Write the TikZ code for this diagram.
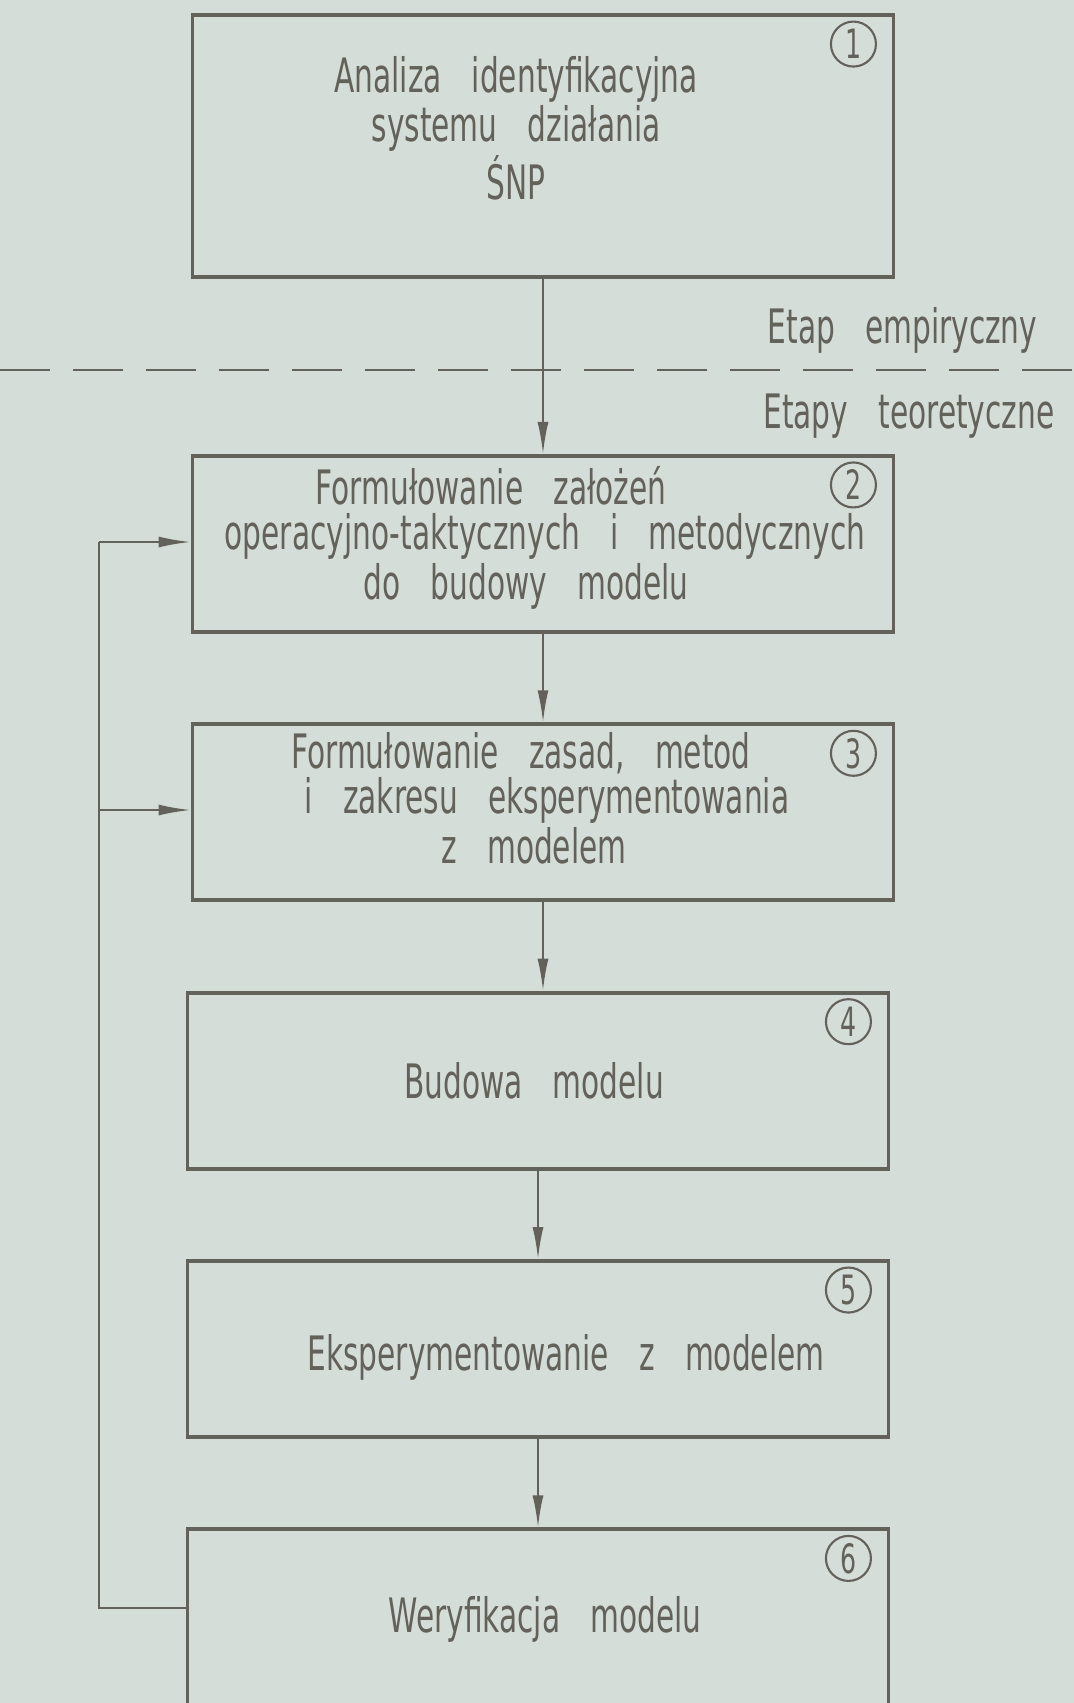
\documentclass[tikz,border=0pt]{standalone}
\usepackage{fontspec}
\usepackage{tikz}
\usetikzlibrary{positioning,arrows.meta}
\newfontfamily\drafting{DejaVu Sans}[FakeStretch=0.625,WordSpace=3.2]
\definecolor{paper}{RGB}{213,221,216}
\definecolor{ink}{RGB}{98,98,90}

\begin{document}
\begin{tikzpicture}[
    node distance={8.85mm},
    box/.style = {draw=ink, line width=1.1pt, minimum width=70.1mm, minimum height=17.6mm, inner sep=0pt},
    txt/.style = {text=ink, align=center, font=\drafting\fontsize{13.5}{12.8}\selectfont, inner sep=0pt},
    num/.style = {draw=ink, circle, line width=0.6pt, minimum size=4.5mm, inner sep=0pt, text=ink, font=\drafting\fontsize{11.5}{11.5}\selectfont},
    flow/.style = {draw=ink, line width=0.6pt, -{Latex[length=3.2mm,width=1.1mm]}},
    back/.style = {draw=ink, line width=0.7pt},
    sep/.style = {draw=ink, line width=0.8pt, dash pattern=on 5mm off 2.3mm}
  ]
  \fill[paper] (0,0) rectangle (10.74,-17.03);
  \useasboundingbox (0,0) rectangle (10.74,-17.03);
  \clip (0,0) rectangle (10.74,-17.03);

  % stages
  \node[box, minimum height=26.2mm] (1) at (5.43,-1.46) {};
  \node[box] (2) [below=17.5mm of 1] {};
  \node[box] (3) [below=of 2] {};
  \node[box] (4) [below=of 3, xshift=-0.5mm] {};
  \node[box] (5) [below=of 4] {};
  \node[box, minimum height=19mm] (6) [below=of 5] {};

  \node[txt] (t1) at ([xshift=-2.7mm,yshift=1.8mm]1.center) {Analiza identyfikacyjna\\systemu działania\\ŚNP};
  \node[txt] (t2) at ([xshift=0.2mm,yshift=0.6mm]2.center) {Formułowanie założeń\hspace*{10.8mm}\\operacyjno-taktycznych i metodycznych\\do budowy modelu\hspace*{3.8mm}};
  \node[txt] (t3) at ([xshift=0.4mm,yshift=1.4mm]3.center) {Formułowanie zasad, metod\hspace*{5.2mm}\\i zakresu eksperymentowania\\z modelem\hspace*{2.6mm}};
  \node[txt] (t4) at ([xshift=-0.4mm]4.center) {Budowa modelu};
  \node[txt] (t5) at ([xshift=2.8mm,yshift=-0.8mm]5.center) {Eksperymentowanie z modelem};
  \node[txt] (t6) at ([xshift=0.7mm,yshift=0.5mm]6.center) {Weryfikacja modelu};

  \foreach \i in {1,...,6}
    \node[num] (k\i) at ([xshift=-4.2mm,yshift=-3.1mm]\i.north east) {\i};

  % empirical / theoretical
  \coordinate (d0) at (0,-3.70);
  \coordinate (d1) at (10.74,-3.70);
  \draw[sep] (d0) -- (d1);
  \node[txt, anchor=base east] (e1) at (10.38,-3.43) {Etap empiryczny};
  \node[txt, anchor=base east] (e2) at (10.55,-4.28) {Etapy teoretyczne};

  \draw[flow] (1.south) -- (1.south |- 2.north);
  \draw[flow] (2.south) -- (2.south |- 3.north);
  \draw[flow] (3.south) -- (3.south |- 4.north);
  \draw[flow] (4.south) -- (4.south |- 5.north);
  \draw[flow] (5.south) -- (5.south |- 6.north);

  % feedback
  \coordinate (f6) at (0.99,-16.08);
  \coordinate (f2) at (0.99,-5.42);
  \coordinate (f3) at (0.99,-8.10);
  \draw[back] (6.west |- f6) -- (f6) -- (f2);
  \draw[flow] (f2) -- (2.west |- f2);
  \draw[flow] (f3) -- (3.west |- f3);
\end{tikzpicture}
\end{document}
